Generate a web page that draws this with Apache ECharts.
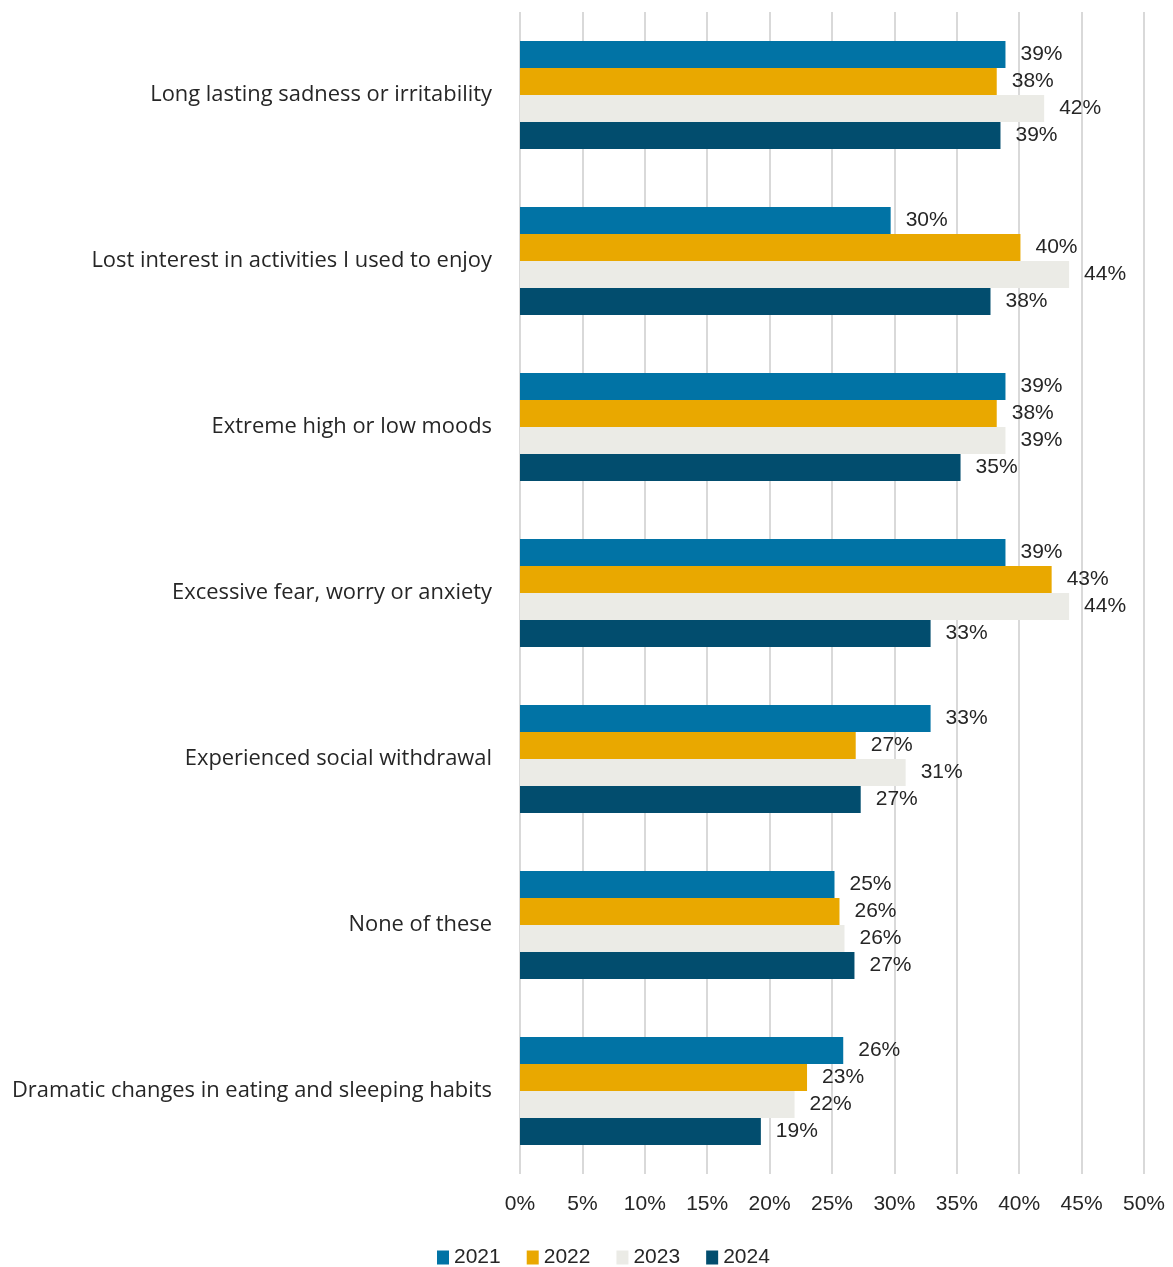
<!DOCTYPE html>
<html>
<head>
<meta charset="utf-8">
<script src="https://cdn.jsdelivr.net/npm/echarts@6/dist/echarts.min.js"></script>
<style>
  html, body { margin: 0; padding: 0; background: #fff; }
  #chart { width: 1173px; height: 1267px; }
</style>
</head>
<body>
<div id="chart"></div>
<script>
const categories = [
  'Long lasting sadness or irritability',
  'Lost interest in activities I used to enjoy',
  'Extreme high or low moods',
  'Excessive fear, worry or anxiety',
  'Experienced social withdrawal',
  'None of these',
  'Dramatic changes in eating and sleeping habits'
];
const years = ['2021', '2022', '2023', '2024'];
const v2021 = [38.9, 29.7, 38.9, 38.9, 32.9, 25.2, 25.9];
const v2022 = [38.2, 40.1, 38.2, 42.6, 26.9, 25.6, 23.0];
const v2023 = [42.0, 44.0, 38.9, 44.0, 30.9, 26.0, 22.0];
const v2024 = [38.5, 37.7, 35.3, 32.9, 27.3, 26.8, 19.3];
const colors = ['#0173a5', '#e9a800', '#ebebe6', '#024d6e'];
const xTicks = [0, 5, 10, 15, 20, 25, 30, 35, 40, 45, 50];

const catFont = "'Open Sans', sans-serif";
const numFont = "'Liberation Sans', Arial, sans-serif";
const seriesData = [v2021, v2022, v2023, v2024];

const chart = echarts.init(document.getElementById('chart'));
chart.setOption({
  backgroundColor: '#fff',
  animation: false,
  color: colors,
  grid: { left: 520, right: 29, top: 12, bottom: 93 },
  legend: {
    left: 432, top: 1242,
    itemWidth: 12, itemHeight: 14, itemGap: 26,
    icon: 'rect',
    textStyle: { fontFamily: numFont, fontSize: 21, color: '#262626' },
    data: years
  },
  xAxis: {
    type: 'value', min: xTicks[0], max: xTicks[xTicks.length - 1], interval: 5,
    axisLine: { show: false }, axisTick: { show: false },
    splitLine: { lineStyle: { color: '#d9d9d9', width: 2 } },
    axisLabel: { formatter: v => v + '%', fontFamily: numFont, fontSize: 21, color: '#262626', margin: 20 }
  },
  yAxis: {
    type: 'category', data: categories, inverse: true,
    axisLine: { show: false }, axisTick: { show: false },
    axisLabel: { fontFamily: catFont, fontSize: 21.9, color: '#262626', margin: 28 }
  },
  series: seriesData.map((d, i) => ({
    name: years[i], type: 'bar', data: d,
    barWidth: 27, barGap: '0%',
    itemStyle: { color: colors[i] },
    label: {
      show: true, position: 'right', distance: 15,
      formatter: p => Math.round(p.value) + '%',
      fontFamily: numFont, fontSize: 21, color: '#262626'
    }
  }))
});
</script>
</body>
</html>
